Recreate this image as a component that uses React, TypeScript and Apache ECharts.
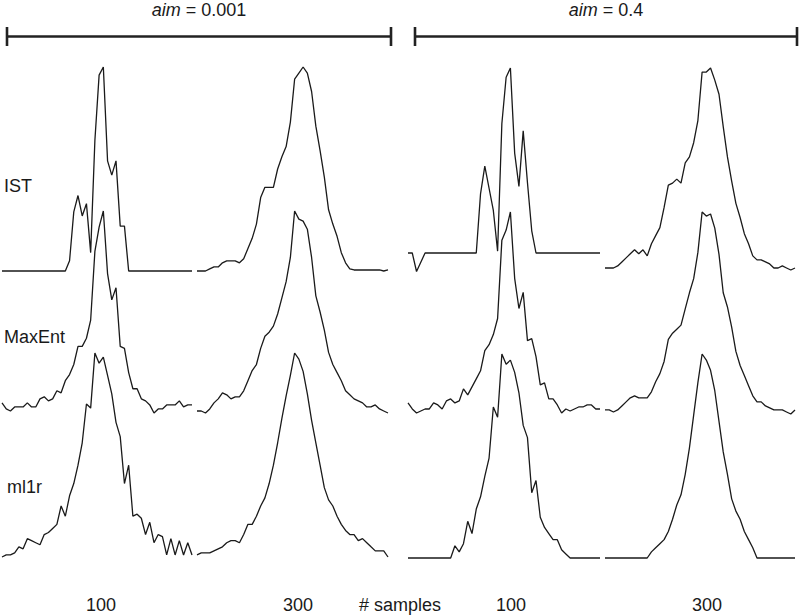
import { useEffect, useRef } from "react";
import * as echarts from "echarts";

// ---- data (normalized intensity, 46 samples per curve) ----
const rowNames = ["IST", "MaxEnt", "ml1r"];
const aimTitles = ["0.001", "0.4"];
const sampleTicks = ["100", "300", "100", "300"];
const axisName = "# samples";

const istAim001N100 = [0,0,0,0,0, 0,0,0,0,0, 0,0,0,0,0, 0,0.05,0.29,0.37,0.27, 0.33,0.09,0.64,0.96,1.0, 0.54,0.47,0.54,0.22,0.22, 0,0,0,0,0, 0,0,0,0,0, 0,0,0,0,0, 0];
const istAim001N300 = [0,0,0,0.01,0.02, 0.02,0.04,0.05,0.05,0.05, 0.04,0.06,0.11,0.16,0.23, 0.36,0.41,0.41,0.41,0.50, 0.56,0.61,0.73,0.94,0.97, 1.0,0.97,0.88,0.71,0.59, 0.46,0.30,0.23,0.17,0.09, 0.04,0.01,0.005,0.005,0.005, 0.005,0.005,0.005,0.005,0, 0.005];
const istAim04N100 = [0,0,-0.10,-0.05,0, 0,0,0,0,0, 0,0,0,0,0, 0,0,0.32,0.47,0.35, 0.23,0.01,0.70,0.95,1.0, 0.54,0.36,0.66,0.38,0.12, 0,0,0,0,0, 0,0,0,0,0, 0,0,0,0,0, 0];
const istAim04N300 = [0.01,0.01,0.01,0.02,0.04, 0.06,0.08,0.10,0.08,0.10, 0.07,0.13,0.17,0.21,0.31, 0.42,0.43,0.45,0.43,0.53, 0.56,0.63,0.74,0.98,0.98, 1.0,0.94,0.87,0.71,0.56, 0.44,0.33,0.26,0.18,0.13, 0.07,0.05,0.05,0.04,0.03, 0.01,0.01,0.02,0.01,0.0, 0.01];

const maxEntAim001N100 = [0.05,0.02,0.01,0.03,0.03, 0.03,0.05,0.03,0.03,0.07, 0.08,0.06,0.07,0.11,0.10, 0.16,0.19,0.24,0.33,0.33, 0.37,0.46,0.80,0.92,1.0, 0.69,0.56,0.62,0.33,0.32, 0.20,0.12,0.12,0.07,0.06, 0.04,0,0.02,0.02,0.04, 0.04,0.04,0.06,0.03,0.04, 0.04];
const maxEntAim001N300 = [0.01,0.01,0,0.02,0.05, 0.07,0.10,0.09,0.07,0.08, 0.08,0.11,0.16,0.21,0.24, 0.32,0.38,0.40,0.43,0.49, 0.57,0.65,0.77,1.0,0.96, 0.95,0.91,0.77,0.58,0.50, 0.41,0.30,0.24,0.20,0.16, 0.11,0.09,0.07,0.06,0.05, 0.03,0.03,0.04,0.02,0.01, 0.0];
const maxEntAim04N100 = [0.05,0.02,0.0,0.01,0.02, 0.02,0.05,0.04,0.02,0.06, 0.07,0.05,0.06,0.12,0.09, 0.13,0.17,0.21,0.31,0.34, 0.39,0.47,0.86,0.91,1.0, 0.67,0.52,0.60,0.36,0.37, 0.28,0.14,0.15,0.07,0.07, 0.04,0.0,0.02,0.01,0.02, 0.03,0.03,0.04,0.04,0.02, 0.02];
const maxEntAim04N300 = [0.02,0.02,0.01,0.02,0.04, 0.06,0.08,0.09,0.08,0.08, 0.08,0.11,0.16,0.20,0.26, 0.37,0.40,0.42,0.44,0.52, 0.60,0.67,0.80,1.0,0.98, 0.99,0.92,0.79,0.60,0.53, 0.43,0.31,0.24,0.19,0.14, 0.09,0.06,0.06,0.04,0.03, 0.02,0.02,0.02,0.01,0.0, 0.02];

const ml1rAim001N100 = [0,0.01,0.01,0.02,0.05, 0.04,0.09,0.08,0.07,0.06, 0.11,0.12,0.14,0.16,0.25, 0.20,0.30,0.36,0.45,0.56, 0.75,0.73,1.0,0.95,0.98, 0.89,0.80,0.66,0.59,0.36, 0.45,0.20,0.21,0.19,0.11, 0.17,0.07,0.11,0.10,0.01, 0.09,0.01,0.08,0.01,0.07, 0.01];
const ml1rAim001N300 = [0.01,0.02,0.02,0.02,0.03, 0.04,0.05,0.07,0.08,0.08, 0.07,0.11,0.16,0.16,0.20, 0.25,0.29,0.36,0.45,0.56, 0.68,0.79,0.89,1.0,0.97, 0.91,0.80,0.67,0.56,0.45, 0.34,0.28,0.25,0.20,0.16, 0.13,0.11,0.11,0.08,0.09, 0.07,0.05,0.03,0.03,0.03, 0.0];
const ml1rAim04N100 = [0,0,0,0,0, 0,0,0,0,0, 0,0.06,0.03,0.07,0.18, 0.12,0.24,0.30,0.40,0.49, 0.74,0.69,1.0,0.95,0.97, 0.91,0.81,0.65,0.59,0.32, 0.38,0.20,0.15,0.12,0.09, 0.09,0.04,0.02,0,0, 0,0,0,0,0, 0];
const ml1rAim04N300 = [0,0,0,0,0, 0,0,0,0,0, 0,0.03,0.05,0.07,0.09, 0.13,0.19,0.26,0.31,0.41, 0.54,0.70,0.86,1.0,0.97, 0.92,0.82,0.67,0.52,0.41, 0.29,0.23,0.19,0.13,0.09, 0.05,0,0,0,0, 0,0,0,0,0, 0];

// rows x panels
const curves = [
  [istAim001N100, istAim001N300, istAim04N100, istAim04N300],
  [maxEntAim001N100, maxEntAim001N300, maxEntAim04N100, maxEntAim04N300],
  [ml1rAim001N100, ml1rAim001N300, ml1rAim04N100, ml1rAim04N300],
];

// ---- layout ----
const panelLeft = [2, 197, 408, 605];
const panelWidth = [190, 191, 192, 190];
const rowPeakY = [
  [67, 67, 68, 68],
  [211, 211, 212, 212],
  [353, 353, 354, 354],
];
const rowBaseY = [
  [271, 271, 253, 270],
  [413, 413, 413, 414],
  [557, 557, 558, 558],
];
const rowLabelPos = [
  [4, 186],
  [4, 337],
  [7, 487],
];
const tickX = [101, 298, 511, 707];
const bracketX = [
  [7, 391],
  [415, 797],
];

const FONT = '"Liberation Sans", Arial, Helvetica, sans-serif';
const INK = "#1a1a1a";

export default function App() {
  const ref = useRef<HTMLDivElement>(null);

  useEffect(() => {
    if (!ref.current) return;
    const chart = echarts.init(ref.current, undefined, { renderer: "svg" });

    const grid: any[] = [];
    const xAxis: any[] = [];
    const yAxis: any[] = [];
    const series: any[] = [];
    let k = 0;
    curves.forEach((row, r) => {
      row.forEach((vals, p) => {
        grid.push({
          left: panelLeft[p],
          top: rowPeakY[r][p],
          width: panelWidth[p],
          height: rowBaseY[r][p] - rowPeakY[r][p],
        });
        xAxis.push({ type: "value", gridIndex: k, min: 0, max: vals.length - 1, show: false });
        yAxis.push({ type: "value", gridIndex: k, min: 0, max: 1, show: false });
        series.push({
          type: "line",
          name: rowNames[r] + "-" + p,
          xAxisIndex: k,
          yAxisIndex: k,
          data: vals.map((v, i) => [i, v]),
          symbol: "none",
          clip: false,
          silent: true,
          lineStyle: { color: INK, width: 1.3 },
        });
        k++;
      });
    });

    const graphic: any[] = [];
    aimTitles.forEach((t, a) => {
      const [x0, x1] = bracketX[a];
      graphic.push({
        type: "text",
        x: (x0 + x1) / 2,
        y: 10,
        style: {
          text: "{i|aim} = " + t,
          fontSize: 18,
          fontFamily: FONT,
          fill: INK,
          align: "center",
          verticalAlign: "middle",
          rich: { i: { fontStyle: "italic", fontSize: 18, fontFamily: FONT, fill: INK } },
        },
      });
      const lineStyle = { stroke: "#222", lineWidth: 2.6 };
      graphic.push({ type: "line", shape: { x1: x0, y1: 36.5, x2: x1, y2: 36.5 }, style: lineStyle });
      graphic.push({ type: "line", shape: { x1: x0, y1: 27, x2: x0, y2: 46 }, style: lineStyle });
      graphic.push({ type: "line", shape: { x1: x1, y1: 27, x2: x1, y2: 46 }, style: lineStyle });
    });
    rowNames.forEach((n, r) => {
      graphic.push({
        type: "text",
        x: rowLabelPos[r][0],
        y: rowLabelPos[r][1],
        style: { text: n, fontSize: 18, fontFamily: FONT, fill: INK, align: "left", verticalAlign: "middle" },
      });
    });
    sampleTicks.forEach((t, p) => {
      graphic.push({
        type: "text",
        x: tickX[p],
        y: 605,
        style: { text: t, fontSize: 18, fontFamily: FONT, fill: INK, align: "center", verticalAlign: "middle" },
      });
    });
    graphic.push({
      type: "text",
      x: 400,
      y: 605,
      style: { text: axisName, fontSize: 18, fontFamily: FONT, fill: INK, align: "center", verticalAlign: "middle" },
    });

    chart.setOption({
      animation: false,
      backgroundColor: "#ffffff",
      grid,
      xAxis,
      yAxis,
      series,
      graphic,
    });
    return () => chart.dispose();
  }, []);

  return (
    <div
      ref={ref}
      style={{ position: "fixed", left: 0, top: 0, width: 800, height: 616, background: "#fff" }}
    />
  );
}
